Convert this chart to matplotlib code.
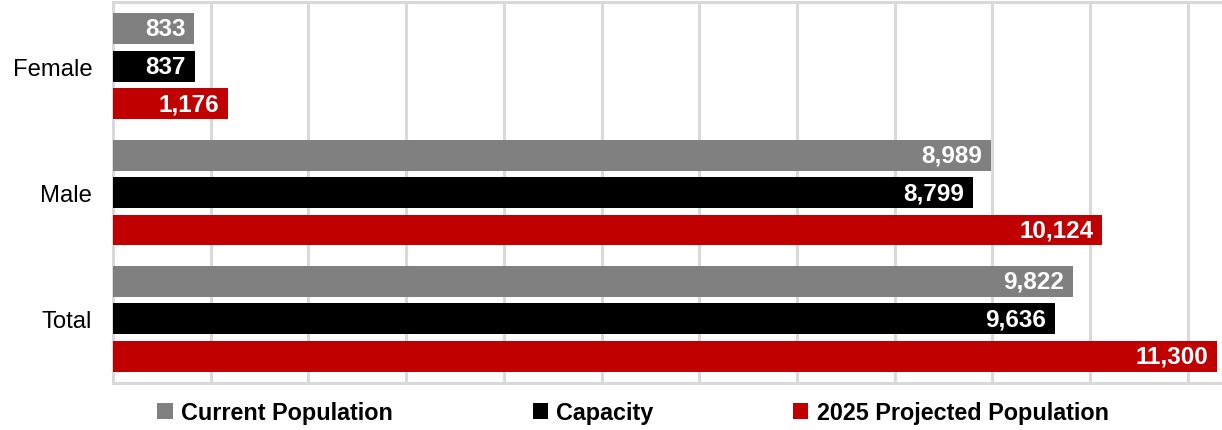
import numpy as np
import matplotlib.pyplot as plt

categories = ["Female", "Male", "Total"]
current_pop = [833, 8989, 9822]
capacity = [837, 8799, 9636]
projected_pop = [1176, 10124, 11300]

series = [
    ("Current Population", current_pop, "#808080"),
    ("Capacity", capacity, "#000000"),
    ("2025 Projected Population", projected_pop, "#C00000"),
]

plt.rcParams['font.family'] = ['Liberation Sans', 'DejaVu Sans']

fig = plt.figure(figsize=(12.22, 4.31), dpi=100)
ax = fig.add_axes([0.0925, 0.109, 0.9075, 0.884])

y = np.arange(len(categories))
offsets = [-0.297, 0, 0.297]
bar_h = 0.245

for (name, vals, color), off in zip(series, offsets):
    bars = ax.barh(y + off, vals, height=bar_h, color=color, label=name, zorder=3)
    for b, v in zip(bars, vals):
        ax.annotate(f"{v:,}", xy=(b.get_width(), b.get_y() + b.get_height() / 2),
                    xytext=(-9, 0), textcoords="offset pixels",
                    ha="right", va="center", color="white",
                    fontsize=17.5, fontweight="bold", zorder=4)

ax.set_xlim(0, 11350)
ax.set_ylim(2.51, -0.51)
ax.set_yticks(y)
ax.set_yticklabels(categories, fontsize=17.2)
ax.tick_params(axis="y", length=0, pad=15)
ax.set_xticks(np.arange(1000, 11001, 1000))
ax.tick_params(axis="x", length=0, labelbottom=False)
ax.grid(axis="x", color="#d9d9d9", linewidth=2.2, zorder=0)
for s in ["left", "bottom", "top"]:
    ax.spines[s].set_color("#d9d9d9")
    ax.spines[s].set_linewidth(2.2)
ax.spines["right"].set_visible(False)

leg = fig.legend(loc="center", bbox_to_anchor=(0.518, 0.04), ncol=3, frameon=False,
                 prop={"weight": "bold", "size": 16.8},
                 handlelength=0.65, handleheight=0.65, handletextpad=0.35,
                 columnspacing=6.0)

fig.savefig("out.png", dpi=100)
